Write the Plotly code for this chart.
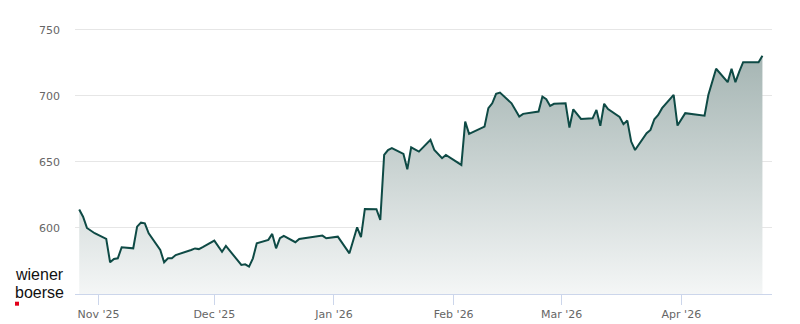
import plotly.graph_objects as go

# ---- data ----
dates = [
    "2025-10-27", "2025-10-28", "2025-10-29", "2025-10-31",
    "2025-11-03", "2025-11-04", "2025-11-05", "2025-11-06", "2025-11-07",
    "2025-11-10", "2025-11-11", "2025-11-12", "2025-11-13", "2025-11-14",
    "2025-11-17", "2025-11-18", "2025-11-19", "2025-11-20", "2025-11-21",
    "2025-11-24", "2025-11-25", "2025-11-26", "2025-11-27", "2025-11-28",
    "2025-12-01", "2025-12-03", "2025-12-04",
    "2025-12-08", "2025-12-09", "2025-12-10", "2025-12-11", "2025-12-12",
    "2025-12-15", "2025-12-16", "2025-12-17", "2025-12-18", "2025-12-19",
    "2025-12-22", "2025-12-23",
    "2025-12-29", "2025-12-30",
    "2026-01-02",
    "2026-01-05", "2026-01-07", "2026-01-08", "2026-01-09",
    "2026-01-12", "2026-01-13", "2026-01-14", "2026-01-15", "2026-01-16",
    "2026-01-19", "2026-01-20", "2026-01-21", "2026-01-23",
    "2026-01-26", "2026-01-27", "2026-01-29", "2026-01-30",
    "2026-02-03", "2026-02-04", "2026-02-05",
    "2026-02-09", "2026-02-10", "2026-02-11", "2026-02-12", "2026-02-13",
    "2026-02-16", "2026-02-18", "2026-02-19",
    "2026-02-23", "2026-02-24", "2026-02-25", "2026-02-26", "2026-02-27",
    "2026-03-02", "2026-03-03", "2026-03-04", "2026-03-06",
    "2026-03-09", "2026-03-10", "2026-03-11", "2026-03-12", "2026-03-13",
    "2026-03-16", "2026-03-17", "2026-03-18", "2026-03-19", "2026-03-20",
    "2026-03-23", "2026-03-24", "2026-03-25", "2026-03-26", "2026-03-27",
    "2026-03-30", "2026-03-31", "2026-04-02",
    "2026-04-07", "2026-04-08", "2026-04-10",
    "2026-04-13", "2026-04-14", "2026-04-15", "2026-04-16", "2026-04-17",
    "2026-04-21", "2026-04-22",
]

prices = [
    614.0, 608.5, 600.0, 596.0,
    591.7, 574.0, 576.5, 577.0, 585.4,
    584.6, 601.0, 604.0, 603.5, 596.0,
    583.3, 574.0, 577.0, 577.0, 579.5,
    582.0, 583.3, 584.5, 584.0, 585.5,
    590.4, 582.0, 586.4,
    572.0, 572.5, 570.7, 577.0, 588.4,
    591.0, 595.5, 584.6, 592.2, 594.0,
    589.2, 591.7,
    594.2, 592.2,
    593.4,
    580.8, 600.5, 593.0, 614.4,
    614.2, 606.0, 655.3, 659.0, 660.4,
    656.0, 644.4, 661.0, 657.8,
    666.7, 659.0, 652.8, 655.3,
    647.7, 680.5, 671.2,
    676.7, 690.7, 694.4, 701.5, 702.5,
    694.4, 684.3, 686.4,
    688.1, 699.5, 697.5, 692.4, 694.0,
    694.4, 676.0, 689.8, 682.5,
    683.0, 689.4, 677.3, 694.0, 690.0,
    684.0, 678.6, 681.3, 665.4, 659.0,
    671.7, 674.2, 682.3, 685.6, 690.7,
    700.8, 677.5, 686.9,
    685.0, 700.8, 720.5,
    710.4, 720.5, 710.4, 718.4, 725.5,
    725.5, 730.3,
]

y_ticks = [600, 650, 700, 750]
x_range = ["2025-10-25 21:50", "2026-04-24 11:30"]
y_range = [550, 765]

line_color = "#0e4a45"
fill_top = "rgb(165,181,179)"
fill_bottom = "rgb(244,246,246)"

fig = go.Figure()
fig.add_trace(go.Scatter(
    x=dates, y=prices, mode="lines",
    line=dict(color=line_color, width=2),
    fill="tozeroy",
    fillgradient=dict(type="vertical", start=y_range[0], stop=max(prices),
                      colorscale=[[0, fill_bottom], [1, fill_top]]),
    hoverinfo="skip", showlegend=False,
))

fig.update_layout(
    width=800, height=324,
    margin=dict(l=75, r=28, t=10, b=30),
    paper_bgcolor="white", plot_bgcolor="white",
    font=dict(family="DejaVu Sans", size=11, color="#666666"),
    xaxis=dict(
        type="date", range=x_range, automargin=False,
        tick0="2025-11-01", dtick="M1", tickformat="%b '%y",
        showgrid=False, zeroline=False,
        showline=True, linecolor="#ccd6eb", linewidth=1,
        ticks="outside", ticklen=10, tickcolor="#ccd6eb", tickwidth=1,
        tickfont=dict(family="DejaVu Sans", size=11, color="#666666"),
    ),
    yaxis=dict(
        range=y_range, tickvals=y_ticks, automargin=False,
        showgrid=True, gridcolor="#e6e6e6", gridwidth=1,
        zeroline=False, showline=False, ticks="",
        ticklabelstandoff=14,
        tickfont=dict(family="DejaVu Sans", size=11, color="#666666"),
    ),
)

# wiener boerse logo (text + red square)
for word, ypos in (("wiener", 0.0704), ("boerse", 0.0053)):
    fig.add_annotation(xref="paper", yref="paper", x=-0.088, y=ypos,
                       xanchor="left", yanchor="middle", showarrow=False,
                       borderpad=0,
                       text=word, font=dict(family="Liberation Sans", size=16, color="#111111"))
fig.add_shape(type="rect", xref="paper", yref="paper",
              x0=-0.0861, x1=-0.0803, y0=-0.0412, y1=-0.0271,
              fillcolor="#e2001a", line=dict(width=0))

fig.write_html("out.html")
